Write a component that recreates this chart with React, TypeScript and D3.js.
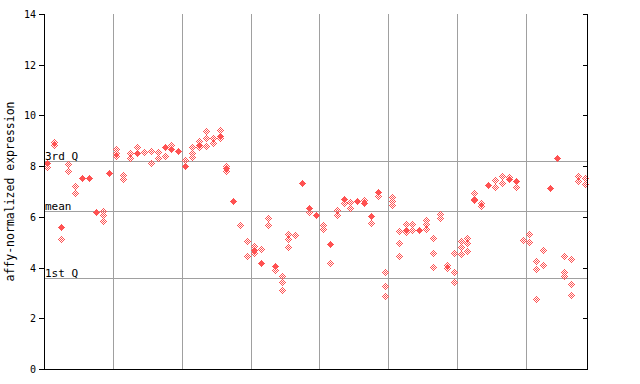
import React from "react";
import * as d3 from "d3";

const yTicks = [0, 2, 4, 6, 8, 10, 12, 14];
const refLabels = ["3rd Q", "mean", "1st Q"];
const refValues = [8.21, 6.22, 3.6];
const groupSize = 10;

// per-sample hatched (replicate) points
const hatchedValues: number[][] = [
  [7.98], [8.96, 8.83], [5.11], [8.08, 7.82], [7.2, 6.93],
  [], [], [], [6.24, 6.07, 5.84], [],
  [8.66, 8.53, 8.4], [7.65, 7.48], [8.5, 8.33], [8.77], [8.55],
  [8.6, 8.14], [8.55, 8.31], [8.4], [8.83], [],
  [8.24], [8.74, 8.53, 8.35], [9.0, 8.77], [9.39, 9.1, 8.79], [9.1, 8.9],
  [9.43, 9.1], [8.0, 7.8], [], [5.67], [5.06, 4.46],
  [4.85, 4.58], [4.72], [5.94, 5.67], [3.9], [3.67, 3.42, 3.1],
  [5.31, 5.11, 4.8], [5.27], [], [6.2], [],
  [5.67, 5.51], [4.17], [6.27, 6.07], [6.56], [6.6, 6.34],
  [], [6.66], [5.74], [6.82], [3.81, 3.26, 2.87],
  [6.8, 6.62, 6.46], [5.43, 4.96, 4.44], [5.71, 5.39], [5.71, 5.48], [],
  [5.88, 5.7, 5.51], [5.15, 4.56, 4.02], [6.1, 5.94], [4.1, 4.0], [4.56, 3.81, 3.42],
  [5.06, 4.82, 4.52], [5.15, 4.96, 4.64], [6.93, 6.65], [6.53, 6.43], [],
  [7.45, 7.19], [7.61, 7.32], [7.56], [7.17], [5.09],
  [5.31, 5.0], [4.25, 3.93, 2.75], [4.68, 4.09], [], [],
  [4.44, 3.84, 3.68], [4.33, 3.34, 2.92], [7.61, 7.4], [7.52, 7.28],
];

// per-sample solid points
const solidValues: (number | null)[] = [
  8.11, null, 5.6, null, null, 7.53, 7.53, 6.18, null, 7.72,
  null, null, null, 8.5, null, null, null, 8.77, 8.68, 8.6,
  8.0, null, 8.85, null, null, 9.19, 7.92, 6.63, null, null,
  4.7, 4.2, null, 4.07, null, null, null, 7.35, 6.34, 6.06,
  null, 4.92, null, 6.7, null, 6.64, 6.56, 6.05, 6.99, null,
  null, null, 5.48, null, 5.47, null, null, null, null, null,
  null, null, 6.72, null, 7.26, null, null, 7.48, 7.43, null,
  null, null, null, 7.12, 8.33, null, null, null, null,
];

const RED = "#ff5252";
const GRID = "#a0a0a0";
const FONT = "'DejaVu Sans Mono', monospace";

const W = 640, H = 384;
const L = 44, R = 588, T = 14, B = 369;

function diamondPixels(cx: number, cy: number, hatched: boolean) {
  const out: [number, number][] = [];
  for (let dy = -3; dy <= 3; dy++) {
    for (let dx = -3; dx <= 3; dx++) {
      if (Math.abs(dx) + Math.abs(dy) > 3) continue;
      if (hatched && (dx + dy + 100) % 2 !== 1) continue;
      out.push([cx + dx, cy + dy]);
    }
  }
  return out;
}

export default function App() {
  const n = hatchedValues.length;
  const x = d3.scaleBand<number>().domain(d3.range(n)).range([L, R]).padding(0);
  const y = d3.scaleLinear().domain([0, 14]).range([B, T]);
  const cx = (i: number) => Math.round((x(i) as number) + x.bandwidth() / 2);
  const cy = (v: number) => Math.round(y(v));

  const gridXs = d3.range(groupSize, n, groupSize).map((i) => Math.round(x(i) as number) + 0.5);

  const pixels: JSX.Element[] = [];
  hatchedValues.forEach((vals, i) => {
    vals.forEach((v, k) => {
      diamondPixels(cx(i), cy(v), true).forEach(([px, py], m) => {
        pixels.push(<rect key={`h${i}-${k}-${m}`} x={px} y={py} width={1} height={1} fill={RED} />);
      });
    });
  });
  solidValues.forEach((v, i) => {
    if (v == null) return;
    diamondPixels(cx(i), cy(v), false).forEach(([px, py], m) => {
      pixels.push(<rect key={`s${i}-${m}`} x={px} y={py} width={1} height={1} fill={RED} />);
    });
  });

  return (
    <svg width={W} height={H} style={{ position: "absolute", left: 0, top: 0, background: "#fff" }} shapeRendering="crispEdges">
      {/* vertical group grid lines */}
      {gridXs.map((gx, i) => (
        <line key={`gx${i}`} x1={gx} x2={gx} y1={T} y2={B} stroke={GRID} strokeWidth={1} />
      ))}
      {/* reference lines */}
      {refValues.map((v, i) => (
        <line key={`ref${i}`} x1={L} x2={R} y1={Math.round(y(v)) + 0.5} y2={Math.round(y(v)) + 0.5} stroke={GRID} strokeWidth={1} />
      ))}
      {refValues.map((v, i) => (
        <text key={`reft${i}`} x={L + 1} y={Math.round(y(v)) - 1} fontFamily={FONT} fontSize={11} fill="#000" textRendering="optimizeSpeed">
          {refLabels[i]}
        </text>
      ))}
      {pixels}
      {/* axes */}
      <line x1={L + 0.5} x2={L + 0.5} y1={T} y2={B + 1} stroke="#000" />
      <line x1={R - 0.5} x2={R - 0.5} y1={T} y2={B + 1} stroke="#000" />
      <line x1={L} x2={R} y1={B + 0.5} y2={B + 0.5} stroke="#000" />
      {yTicks.map((t) => (
        <g key={`yt${t}`}>
          <line x1={L - 5} x2={L} y1={Math.round(y(t)) + 0.5} y2={Math.round(y(t)) + 0.5} stroke="#000" />
          <line x1={R - 5} x2={R} y1={Math.round(y(t)) + 0.5} y2={Math.round(y(t)) + 0.5} stroke="#000" />
          <text x={L - 8} y={Math.round(y(t)) + 4} textAnchor="end" fontFamily={FONT} fontSize={10} fill="#000">
            {t}
          </text>
        </g>
      ))}
      <text
        transform={`translate(14, ${(T + B) / 2}) rotate(-90)`}
        textAnchor="middle"
        fontFamily={FONT}
        fontSize={11.5}
        fill="#000"
      >
        affy-normalized expression
      </text>
    </svg>
  );
}
